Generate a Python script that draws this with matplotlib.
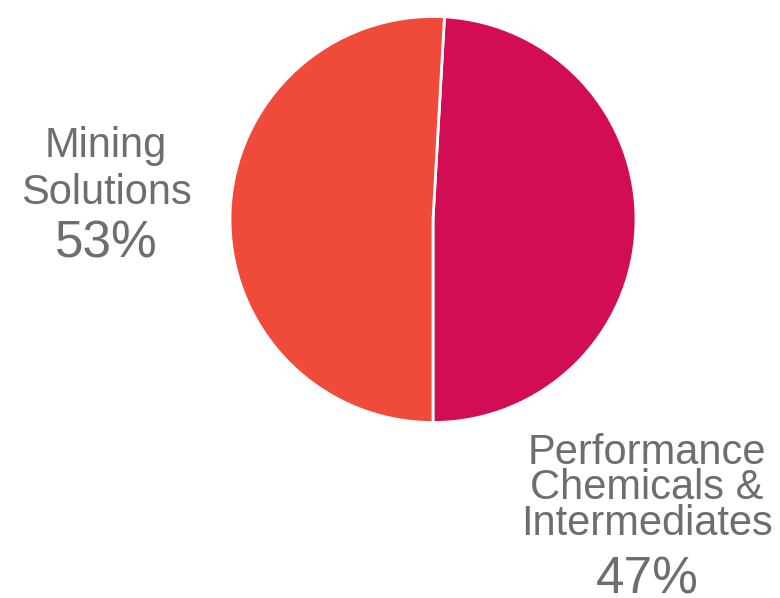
import matplotlib.pyplot as plt

# wedge shares as drawn (angles)
segments = ["Performance Chemicals & Intermediates", "Mining Solutions"]
shares = [49.1, 50.9]
colors = ["#D20D55", "#F04A3B"]

# label text as printed on the chart
label_text = ["Performance\nChemicals &\nIntermediates", "Mining\nSolutions"]
pct_labels = ["47%", "53%"]

W, H = 780, 598
fig = plt.figure(figsize=(W / 100, H / 100), dpi=100)
plt.rcParams["font.family"] = ["Liberation Sans", "DejaVu Sans"]

cx, cy, r = 433, 219.5, 203
ax = fig.add_axes([(cx - r) / W, (H - cy - r) / H, 2 * r / W, 2 * r / H])
ax.pie(shares, colors=colors, startangle=-90, counterclock=True, radius=1,
       wedgeprops=dict(edgecolor="white", linewidth=2))
ax.set_xlim(-1.0, 1.0)
ax.set_ylim(-1.0, 1.0)
ax.set_aspect("equal")
ax.axis("off")

grey = "#6E6E6E"

# label positions in pixels: center x, last-line baseline, line spacing, percent baseline
layout = [(647, 535, 0.855, 593), (106, 204, 1.21, 257)]
for text, pct, (x, base, spacing, pbase) in zip(label_text, pct_labels, layout):
    fig.text(x / W, 1 - base / H, text, ha="center", va="baseline",
             multialignment="center", linespacing=spacing,
             fontsize=30, color=grey)
    fig.text(x / W, 1 - pbase / H, pct, ha="center", va="baseline",
             fontsize=37, color=grey)

fig.savefig("out.png", dpi=100)
